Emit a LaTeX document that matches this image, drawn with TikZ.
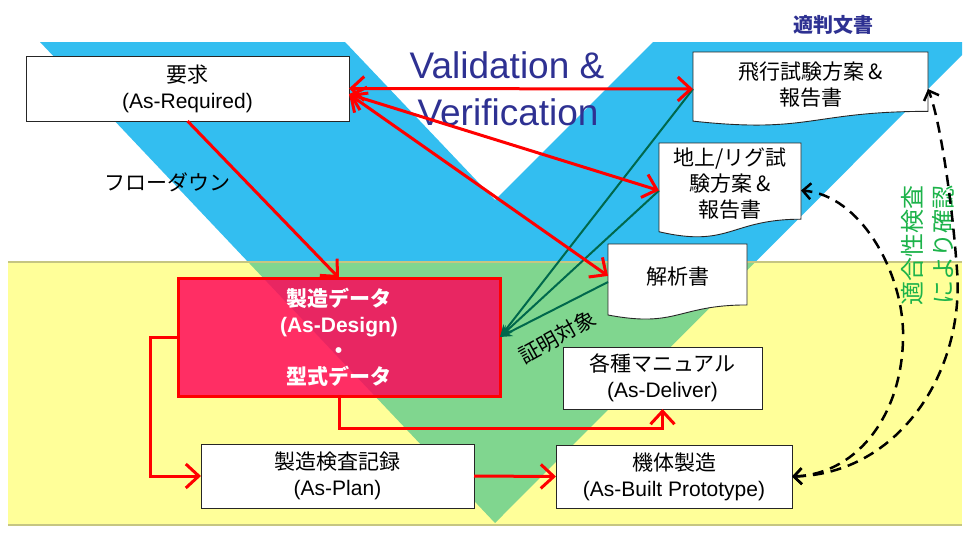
\documentclass[tikz,border=0pt]{standalone}
\usepackage{fontspec}
\setmainfont{Liberation Sans}
\newfontfamily\jp{Noto Sans CJK JP}
\usetikzlibrary{arrows.meta,calc}

\definecolor{vblue}{HTML}{33BEF0}
\definecolor{band}{HTML}{FFFF99}
\definecolor{bandedge}{HTML}{C6C682}
\definecolor{vgreen}{HTML}{80D68F}
\definecolor{navy}{HTML}{2E3192}
\definecolor{proof}{HTML}{00684C}
\definecolor{okgreen}{HTML}{1DB34A}
\definecolor{design}{HTML}{FF0059}

% document symbol: straight top and sides, wavy bottom edge
\newcommand\docoutline[1]{%
  \filldraw[docline] (#1.north west) -- (#1.north east)
    -- ($(#1.north east)!0.802!(#1.south east)$)
    .. controls ($(#1.north)!0.802!(#1.south)$) and ($(#1.north)!1.1075!(#1.south)$)
    .. ($(#1.north west)!0.934!(#1.south west)$) -- cycle;}

\begin{document}
\begin{tikzpicture}[x=1pt, y=-1pt,
  every node/.style={inner sep=0pt, outer sep=0pt},
  txt/.style={font=\fontsize{21}{26}\selectfont, align=center},
  jtxt/.style={txt, font=\jp\fontsize{21}{26}\selectfont},
  box/.style={txt, draw=black!85, line width=0.9pt, fill=white},
  docline/.style={draw=black!85, line width=0.9pt, fill=white},
  redarrow/.style={draw=red, line width=3pt, >={Straight Barb[length=13pt,width=24pt]}},
  proofarrow/.style={draw=proof, line width=2pt, -{Stealth[length=12pt,width=10pt]}},
  checkarrow/.style={draw=black, line width=2.5pt, dash pattern=on 11pt off 7pt, <->,
    >={Straight Barb[length=8pt,width=16pt]}},
]
\fill[white] (0,0) rectangle (971,533);
\useasboundingbox (0,0) rectangle (971,533);

% V band and production band
\fill[vblue] (40,42) -- (345,42) -- (495,200) -- (653,42) -- (962,42) -- (962,55) -- (495,523) -- cycle;
\fill[band] (8,262) rectangle (962,525);
\begin{scope}
  \clip (8,262) rectangle (962,525);
  \fill[vgreen] (40,42) -- (345,42) -- (495,200) -- (653,42) -- (962,42) -- (962,55) -- (495,523) -- cycle;
\end{scope}
\draw[bandedge, line width=1.2pt] (8,262) -- (962,262) (8,525) -- (962,525);

% headings
\node[font={\jp\fontsize{20}{24}\selectfont\bfseries}, text=navy] (docs) at (833,25) {適判文書};
\node[anchor=base, font=\fontsize{37}{40}\selectfont, text=navy] (vv1) at (507,78) {Validation \&};
\node[anchor=base, font=\fontsize{37}{40}\selectfont, text=navy] (vv2) at (508,125) {Verification};

% boxes
\node[box, minimum width=323, minimum height=65] (req) at (187.5,88.5) {{\jp 要求}\\(As-Required)};

\node[minimum width=235, minimum height=74] (fly) at (810.5,89) {};
\docoutline{fly}
\node[jtxt] (flytext) at (810.5,84.5) {飛行試験方案 \&\\報告書};

\node[minimum width=142, minimum height=95] (gr) at (730,190.5) {};
\docoutline{gr}
\node[jtxt] (grtext) at (730,184) {地上/リグ試\\験方案 \&\\報告書};

\node[minimum width=139, minimum height=76] (ana) at (677.5,282) {};
\docoutline{ana}
\node[jtxt] (anatext) at (677.5,277) {解析書};

\node[box, draw=red, line width=3pt, fill=design, fill opacity=0.82, text opacity=1,
  text=white, font=\bfseries\fontsize{21}{26}\selectfont,
  minimum width=322, minimum height=118] (sd) at (339,337)
  {{\jp 製造データ}\\(As-Design)\\{\jp ・}\\{\jp 型式データ}};

\node[box, minimum width=199, minimum height=62] (manual) at (662.5,378) {{\jp 各種マニュアル}\\(As-Deliver)};
\node[box, minimum width=273, minimum height=64] (plan) at (337.5,476) {{\jp 製造検査記録}\\(As-Plan)};
\node[box, minimum width=236, minimum height=63] (built) at (674,476.5) {{\jp 機体製造}\\(As-Built Prototype)};

% labels
\node[jtxt] (flow) at (167,182) {フローダウン};
\node[jtxt, rotate=29] (proofnote) at (557,337) {証明対象};
\node[jtxt, text=okgreen, font=\jp\fontsize{24}{31}\selectfont, rotate=90] (conform) at (928,245) {適合性検査\\により確認};

% evidence links to the design data
\draw[proofarrow] (fly.west) -- (sd.east);
\draw[proofarrow] (gr.west) -- (sd.east);
\draw[proofarrow] (ana.west) -- (sd.east);

% flow-down and V&V links
\draw[redarrow, ->] (req.south) -- (sd.north);
\draw[redarrow, <->] (req.east) -- (fly.west);
\draw[redarrow, <->] (req.-2) -- (gr.west);
\draw[redarrow, <->] (req.-2) -- (ana.175);
\draw[redarrow, ->] (sd.south) -- ++(0,32) -| (manual.south);
\draw[redarrow, ->] (sd.west) -- ++(-28,0) |- (plan.west);
\draw[redarrow, ->] (plan.east) -- (built.west);

% conformity checks
\draw[checkarrow] (built.east) .. controls (900,474) and (965,370) .. (957,270)
  .. controls (952,200) and (940,120) .. (fly.east);
\draw[checkarrow] (built.east) .. controls (860,474) and (905,410) .. (903,330)
  .. controls (901,270) and (860,195) .. (gr.east);
\end{tikzpicture}
\end{document}
